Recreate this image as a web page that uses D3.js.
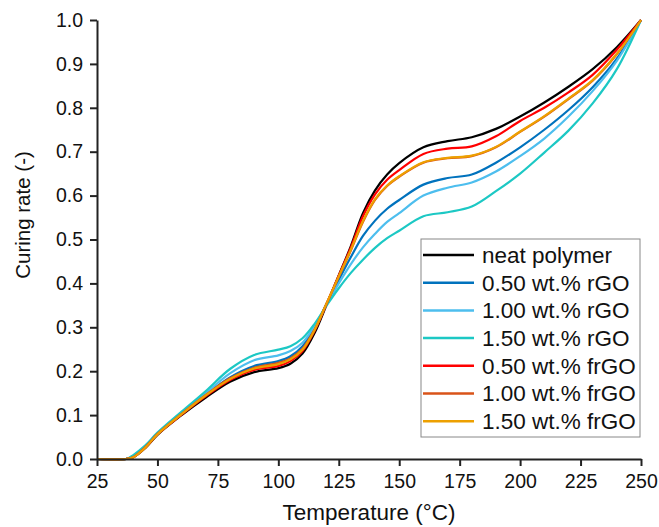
<!DOCTYPE html>
<html>
<head>
<meta charset="utf-8">
<script src="https://cdn.jsdelivr.net/npm/d3@7"></script>
<style>
  body { margin: 0; background: #fff; }
  svg { font-family: "Liberation Sans", Arial, sans-serif; }
</style>
</head>
<body>
<div id="chart"></div>
<script>
const temps = [25, 37, 40, 45, 50, 60, 70, 80, 90, 100, 105, 110, 115, 120, 125, 130, 135, 140, 145, 150, 160, 170, 180, 190, 200, 210, 220, 230, 240, 250];

const neat     = [0, 0, 0.004, 0.025, 0.055, 0.100, 0.140, 0.176, 0.198, 0.207, 0.217, 0.240, 0.287, 0.352, 0.418, 0.485, 0.560, 0.612, 0.648, 0.674, 0.710, 0.724, 0.733, 0.752, 0.780, 0.812, 0.848, 0.888, 0.938, 1];
const rgo050   = [0, 0, 0.005, 0.027, 0.057, 0.103, 0.146, 0.186, 0.212, 0.223, 0.234, 0.257, 0.299, 0.354, 0.408, 0.460, 0.508, 0.543, 0.570, 0.590, 0.625, 0.640, 0.648, 0.675, 0.710, 0.750, 0.795, 0.847, 0.912, 1];
const rgo100   = [0, 0, 0.007, 0.029, 0.058, 0.105, 0.150, 0.195, 0.225, 0.236, 0.246, 0.265, 0.303, 0.352, 0.400, 0.444, 0.482, 0.513, 0.540, 0.560, 0.600, 0.618, 0.630, 0.655, 0.690, 0.730, 0.780, 0.838, 0.907, 1];
const rgo150   = [0, 0, 0.009, 0.031, 0.060, 0.108, 0.155, 0.205, 0.237, 0.249, 0.257, 0.275, 0.308, 0.350, 0.389, 0.424, 0.454, 0.481, 0.503, 0.520, 0.553, 0.562, 0.575, 0.610, 0.650, 0.698, 0.748, 0.810, 0.888, 1];
const frgo050  = [0, 0, 0.004, 0.026, 0.056, 0.101, 0.143, 0.180, 0.203, 0.212, 0.223, 0.246, 0.292, 0.354, 0.418, 0.482, 0.553, 0.603, 0.636, 0.658, 0.695, 0.707, 0.712, 0.735, 0.770, 0.800, 0.835, 0.875, 0.932, 1];
const frgo100  = [0, 0, 0.004, 0.027, 0.057, 0.103, 0.146, 0.184, 0.208, 0.219, 0.229, 0.251, 0.295, 0.355, 0.415, 0.475, 0.540, 0.590, 0.622, 0.643, 0.675, 0.685, 0.690, 0.710, 0.745, 0.780, 0.820, 0.862, 0.922, 1];
const frgo150  = [0, 0, 0.004, 0.026, 0.056, 0.102, 0.145, 0.182, 0.206, 0.216, 0.227, 0.249, 0.294, 0.355, 0.416, 0.477, 0.542, 0.592, 0.623, 0.644, 0.676, 0.686, 0.691, 0.711, 0.746, 0.781, 0.821, 0.863, 0.923, 1];

const seriesNames = ["neat polymer", "0.50 wt.% rGO", "1.00 wt.% rGO", "1.50 wt.% rGO", "0.50 wt.% frGO", "1.00 wt.% frGO", "1.50 wt.% frGO"];
const seriesValues = [neat, rgo050, rgo100, rgo150, frgo050, frgo100, frgo150];
const seriesColors = ["#000000", "#0072BD", "#4DBEEE", "#1cc8c4", "#ff0000", "#D95319", "#EDA000"];

const xTicks = [25, 50, 75, 100, 125, 150, 175, 200, 225, 250];
const yTicks = [0, 0.1, 0.2, 0.3, 0.4, 0.5, 0.6, 0.7, 0.8, 0.9, 1.0];

const width = 659, height = 527;
const margin = { left: 97, right: 18, top: 20, bottom: 68 };

const svg = d3.select("#chart").append("svg")
  .attr("width", width)
  .attr("height", height);

const x = d3.scaleLinear().domain([25, 250]).range([margin.left, width - margin.right]);
const y = d3.scaleLinear().domain([0, 1]).range([height - margin.bottom, margin.top]);

// curves
const line = d3.line()
  .x((d, i) => x(temps[i]))
  .y(d => y(d))
  .curve(d3.curveCatmullRom.alpha(0.5));

svg.append("g")
  .selectAll("path")
  .data(seriesValues)
  .join("path")
  .attr("fill", "none")
  .attr("stroke", (d, i) => seriesColors[i])
  .attr("stroke-width", 2.2)
  .attr("d", line);

// axes
const xAxis = svg.append("g")
  .attr("transform", `translate(0,${y(0)})`)
  .call(d3.axisBottom(x).tickValues(xTicks).tickSize(7).tickPadding(8).tickSizeOuter(0));

const yAxis = svg.append("g")
  .attr("transform", `translate(${x(25)},0)`)
  .call(d3.axisLeft(y).tickValues(yTicks).tickFormat(d3.format(".1f")).tickSize(7).tickPadding(7).tickSizeOuter(0));

[xAxis, yAxis].forEach(g => {
  g.select(".domain").attr("stroke", "#222").attr("stroke-width", 2);
  g.selectAll(".tick line").attr("stroke", "#222").attr("stroke-width", 2);
  g.selectAll(".tick text").attr("fill", "#111").style("font-size", "19.5px").style("font-family", "Liberation Sans, Arial, sans-serif");
});

// axis titles
svg.append("text")
  .attr("x", (x(25) + x(250)) / 2)
  .attr("y", 520)
  .attr("text-anchor", "middle")
  .style("font-size", "22.5px")
  .attr("fill", "#111")
  .text("Temperature (°C)");

svg.append("text")
  .attr("transform", "translate(30,215) rotate(-90)")
  .attr("text-anchor", "middle")
  .style("font-size", "20.5px")
  .attr("fill", "#111")
  .text("Curing rate (-)");

// legend
const legend = svg.append("g").attr("transform", "translate(421,239)");
legend.append("rect")
  .attr("width", 219)
  .attr("height", 198)
  .attr("fill", "#fff")
  .attr("stroke", "#888")
  .attr("stroke-width", 1);

const rows = legend.selectAll("g.row")
  .data(seriesNames)
  .join("g")
  .attr("class", "row")
  .attr("transform", (d, i) => `translate(0,${16 + i * 27.7})`);

rows.append("line")
  .attr("x1", 2).attr("x2", 53)
  .attr("stroke", (d, i) => seriesColors[i])
  .attr("stroke-width", 2.5);

rows.append("text")
  .attr("x", 61)
  .attr("dy", "0.35em")
  .style("font-size", "22.5px")
  .attr("fill", "#111")
  .text(d => d);
</script>
</body>
</html>
